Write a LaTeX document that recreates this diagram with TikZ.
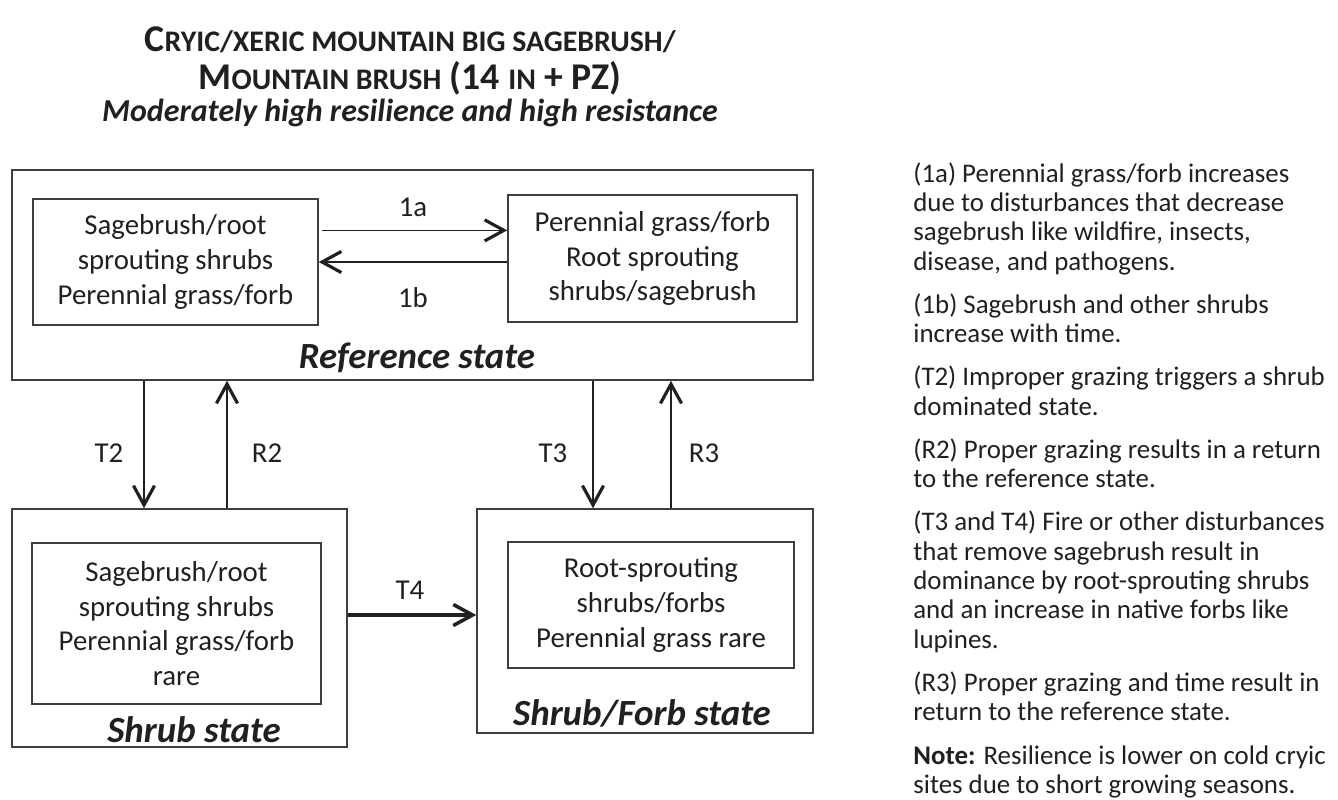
\documentclass[tikz,border=0pt]{standalone}
\usepackage{fontspec}
\setmainfont{Carlito}
\usetikzlibrary{arrows.meta, positioning}
\definecolor{mydark}{RGB}{35,31,32}
\definecolor{myframe}{RGB}{62,62,62}
\newcommand{\boxfont}{\fontsize{16.4}{19.8}\selectfont}
\newcommand{\statefont}{\fontsize{21}{25}\selectfont\bfseries\itshape}
\newcommand{\notefont}{\fontsize{15.3}{16.7}\selectfont}
\newcommand{\titlefont}{\fontsize{21.5}{26}\selectfont\bfseries}
\newcommand{\tsc}[1]{{\fontsize{17}{20}\selectfont #1}}
\tikzset{
  outerbox/.style={rectangle, draw=myframe, line width=0.9pt, inner sep=0pt},
  innerbox/.style={rectangle, draw=myframe, line width=0.9pt, inner sep=0pt,
    align=center, font=\boxfont, text=mydark},
  statelabel/.style={font=\statefont, text=mydark, inner sep=0pt},
  translabel/.style={font=\boxfont, text=mydark, inner sep=0pt},
  thinarrow/.style={-{Straight Barb[length=11pt, width=12pt, line width=1.8pt]},
    line width=1pt, color=mydark},
  vertarrow/.style={-{Straight Barb[length=11pt, width=12pt, line width=1.8pt]},
    line width=1.4pt, color=mydark},
  thickarrow/.style={-{Straight Barb[length=11pt, width=12pt, line width=2pt]},
    line width=1.8pt, color=mydark}
}
\begin{document}
\begin{tikzpicture}[x=0.02cm, y=-0.02cm]
  \useasboundingbox (0,0) rectangle (1338,799);

  % Title
  \node[font=\titlefont, text=mydark] (title1) at (410,40)
    {C\tsc{RYIC/XERIC MOUNTAIN BIG SAGEBRUSH/}};
  \node[font=\titlefont, text=mydark] (title2) at (410,78)
    {M\tsc{OUNTAIN BRUSH} (14 \tsc{IN} + PZ)};
  \node[font=\fontsize{18.2}{22}\selectfont\bfseries\itshape, text=mydark] (subtitle) at (410,113)
    {Moderately high resilience and high resistance};

  % Reference state
  \node[outerbox, minimum width=16.02cm, minimum height=4.2cm] (refbox) at (412.5,275) {};
  \node[innerbox, minimum width=5.7cm, minimum height=2.52cm] (refA) at (175.5,262)
    {Sagebrush/root\\sprouting shrubs\\Perennial grass/forb};
  \node[innerbox, minimum width=5.78cm, minimum height=2.54cm] (refB) at (652.5,258.5)
    {Perennial grass/forb\\Root sprouting\\shrubs/sagebrush};
  \node[statelabel] (reflabel) at (417,358) {Reference state};

  \draw[thinarrow] ([xshift=2pt, yshift=18pt]refA.east) -- ([yshift=18pt]refA.east -| refB.west);
  \draw[thinarrow] (refB.west |- refA.east) -- (refA.east);
  \node[translabel] (l1a) at (413,207) {1a};
  \node[translabel] (l1b) at (413,298) {1b};

  % Shrub state
  \node[outerbox, minimum width=6.7cm, minimum height=4.76cm] (shrub) at (179.5,628) {};
  \node[innerbox, minimum width=5.78cm, minimum height=3.22cm] (shrubA) at (176.5,623.5)
    {Sagebrush/root\\sprouting shrubs\\Perennial grass/forb\\rare};
  \node[statelabel] (shrublabel) at (194,730) {Shrub state};

  % Shrub/Forb state
  \node[outerbox, minimum width=6.72cm, minimum height=4.48cm] (forb) at (645,621) {};
  \node[innerbox, minimum width=5.72cm, minimum height=2.52cm] (forbA) at (651,605)
    {Root-sprouting\\shrubs/forbs\\Perennial grass rare};
  \node[statelabel] (forblabel) at (642,713) {Shrub/Forb state};

  % Transitions and restorations
  \draw[vertarrow] (refbox.south -| 144,0) -- (shrub.north -| 144,0);
  \draw[vertarrow] (shrub.north -| 227,0) -- (refbox.south -| 227,0);
  \draw[vertarrow] (refbox.south -| 593,0) -- (forb.north -| 593,0);
  \draw[vertarrow] (forb.north -| 671,0) -- (refbox.south -| 671,0);
  \draw[thickarrow] (shrub.east |- 0,615) -- (forb.west |- 0,615);
  \node[translabel] (lt2) at (109,453) {T2};
  \node[translabel] (lr2) at (267,453) {R2};
  \node[translabel] (lt3) at (553,453) {T3};
  \node[translabel] (lr3) at (704,453) {R3};
  \node[translabel] (lt4) at (410,590) {T4};

  % Notes
  \node[anchor=north west, align=left, inner sep=0pt, font=\notefont, text=mydark] (notes) at (913,162)
    {(1a) Perennial grass/forb increases\\
     due to disturbances that decrease\\
     sagebrush like wildfire, insects,\\
     disease, and pathogens.\\[7.9pt]
     (1b) Sagebrush and other shrubs\\
     increase with time.\\[7.9pt]
     (T2) Improper grazing triggers a shrub\\
     dominated state.\\[7.9pt]
     (R2) Proper grazing results in a return\\
     to the reference state.\\[7.9pt]
     (T3 and T4) Fire or other disturbances\\
     that remove sagebrush result in\\
     dominance by root-sprouting shrubs\\
     and an increase in native forbs like\\
     lupines.\\[7.9pt]
     (R3) Proper grazing and time result in\\
     return to the reference state.\\[7.9pt]
     \textbf{Note:} Resilience is lower on cold cryic\\
     sites due to short growing seasons.};
\end{tikzpicture}
\end{document}
